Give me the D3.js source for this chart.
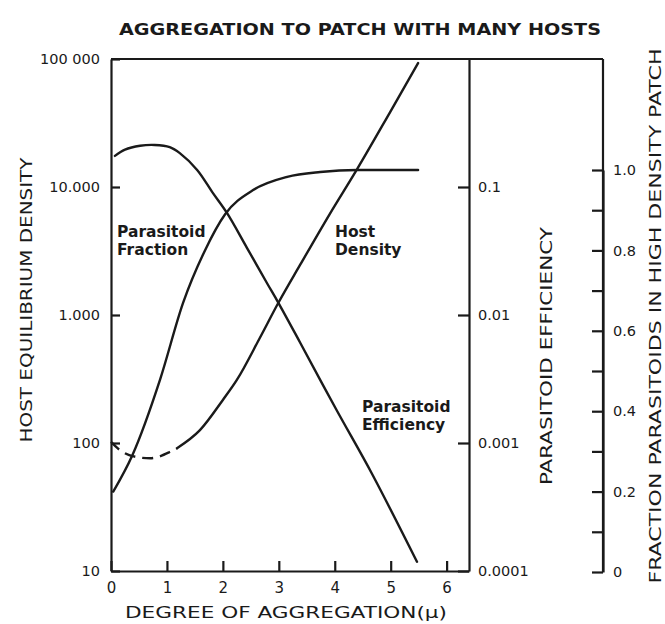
<!DOCTYPE html>
<html>
<head>
<meta charset="utf-8">
<script src="https://cdn.jsdelivr.net/npm/d3@7"></script>
<style>
  body { margin: 0; background: #fff; }
  svg { display: block; }
  text { font-family: "DejaVu Sans", sans-serif; fill: #1a1a1a; }
</style>
</head>
<body>
<svg></svg>
<script>
let width = 665, height = 624;

// x positions (degree of aggregation) and values
const xTicks = [0, 1, 2, 3, 4, 5, 6];

const hostTicks = [10, 100, 1000, 10000, 100000];
const hostLabels = ["10", "100", "1.000", "10.000", "100 000"];

const effTicks = [0.0001, 0.001, 0.01, 0.1];
const effLabels = ["0.0001", "0.001", "0.01", "0.1"];

const fracTicks = [0, 0.1, 0.2, 0.3, 0.4, 0.5, 0.6, 0.7, 0.8, 0.9, 1.0];
const fracLabels = ["0", "", "0.2", "", "0.4", "", "0.6", "", "0.8", "", "1.0"];

// parasitoid efficiency (middle log axis)
const effX = [0.07, 0.25, 0.52, 0.78, 1.05, 1.23, 1.54, 1.82, 2.07, 2.43, 2.79, 2.99, 3.38, 4.02, 4.67, 5.47];
const effY = [0.175, 0.196, 0.210, 0.213, 0.205, 0.184, 0.136, 0.090, 0.063, 0.0335, 0.0177, 0.0125, 0.0061, 0.00185, 0.00057, 0.000118];

// fraction of parasitoids in high density patch (right linear axis)
const fracX = [0.04, 0.38, 0.88, 1.29, 1.68, 2.04, 2.54, 3.15, 3.74, 4.40, 5.49];
const fracY = [0.20, 0.29, 0.48, 0.67, 0.80, 0.89, 0.95, 0.983, 0.995, 1.0, 1.0];

// host equilibrium density (left log axis); first part dashed
const hostX = [0, 0.16, 0.38, 0.70, 1.05, 1.18, 1.59, 2.00, 2.25, 2.66, 2.99, 3.38, 3.91, 4.40, 4.99, 5.49];
const hostY = [102, 88, 79, 76, 85, 91, 126, 217, 311, 661, 1240, 2460, 6150, 13800, 38500, 93000];
const hostDashEnd = 5;

let svg = d3.select("svg")
    .attr("width", width)
    .attr("height", height);

let ink = "#1a1a1a";

let x = d3.scaleLinear().domain([0, 6.4]).range([111, 469]);
let yHost = d3.scaleLog().domain([10, 100000]).range([571, 59]);
let yEff = d3.scaleLog().domain([0.0001, 1]).range([571, 59]);
let yFrac = d3.scaleLinear().domain([0, 1]).range([572, 170]);

let rightX = 603;

function styleAxis(g, size) {
  g.selectAll("path, line").attr("stroke", ink).attr("stroke-width", 2.2);
  g.selectAll("text").attr("font-size", size).attr("fill", ink)
    .attr("font-family", "DejaVu Sans, sans-serif");
}

// left axis, ticks inward
svg.append("g")
    .attr("transform", "translate(" + x(0) + ",0)")
    .call(d3.axisLeft(yHost).tickValues(hostTicks)
      .tickFormat((d, i) => hostLabels[i])
      .tickSizeInner(-9).tickSizeOuter(0).tickPadding(11))
    .call(g => styleAxis(g, 14.5));

// bottom axis
svg.append("g")
    .attr("transform", "translate(0," + yHost(10) + ")")
    .call(d3.axisBottom(x).tickValues(xTicks)
      .tickFormat(d3.format("d"))
      .tickSizeInner(-10).tickSizeOuter(0).tickPadding(11))
    .call(g => styleAxis(g, 15));

// middle axis (parasitoid efficiency)
svg.append("g")
    .attr("transform", "translate(469,0)")
    .call(d3.axisRight(yEff).tickValues(effTicks)
      .tickFormat((d, i) => effLabels[i])
      .tickSizeInner(-11).tickSizeOuter(0).tickPadding(9))
    .call(g => styleAxis(g, 14.5));

// right axis (fraction)
svg.append("g")
    .attr("transform", "translate(" + rightX + ",0)")
    .call(d3.axisRight(yFrac).tickValues(fracTicks)
      .tickFormat((d, i) => fracLabels[i])
      .tickSizeInner(-11).tickSizeOuter(0).tickPadding(10))
    .call(g => styleAxis(g, 14.5));

// frame: top line and upper part of right axis
svg.append("line")
    .attr("x1", x(0)).attr("x2", rightX)
    .attr("y1", yHost(100000)).attr("y2", yHost(100000))
    .attr("stroke", ink).attr("stroke-width", 2.2);
svg.append("line")
    .attr("x1", rightX).attr("x2", rightX)
    .attr("y1", yHost(100000)).attr("y2", yFrac(0))
    .attr("stroke", ink).attr("stroke-width", 2.2);

// curves
let curveG = svg.append("g")
    .attr("fill", "none")
    .attr("stroke", ink)
    .attr("stroke-width", 2.4)
    .attr("stroke-linecap", "round");

let effLine = d3.line().x(d => x(d[0])).y(d => yEff(d[1])).curve(d3.curveCatmullRom);
let fracLine = d3.line().x(d => x(d[0])).y(d => yFrac(d[1])).curve(d3.curveMonotoneX);
let hostLine = d3.line().x(d => x(d[0])).y(d => yHost(d[1])).curve(d3.curveMonotoneX);

curveG.append("path").attr("d", effLine(d3.zip(effX, effY)));
curveG.append("path").attr("d", fracLine(d3.zip(fracX, fracY)));

let hostPts = d3.zip(hostX, hostY);
curveG.append("path")
    .attr("d", hostLine(hostPts.slice(0, hostDashEnd + 1)))
    .attr("stroke-dasharray", "11,7")
    .attr("stroke-linecap", "butt");
curveG.append("path").attr("d", hostLine(hostPts.slice(hostDashEnd)));

// curve labels
function label(lines, lx, ly) {
  let t = svg.append("text")
      .attr("font-size", 15.5)
      .attr("font-weight", "bold");
  lines.forEach((s, i) => {
    t.append("tspan").attr("x", lx).attr("y", ly + i * 18).text(s);
  });
}
label(["Parasitoid", "Fraction"], 117, 237);
label(["Host", "Density"], 335, 237);
label(["Parasitoid", "Efficiency"], 362, 412);

// titles
svg.append("text")
    .attr("x", 360).attr("y", 35)
    .attr("text-anchor", "middle")
    .attr("font-size", 15.5).attr("font-weight", "bold")
    .attr("textLength", 482).attr("lengthAdjust", "spacingAndGlyphs")
    .text("AGGREGATION TO PATCH WITH MANY HOSTS");

svg.append("text")
    .attr("x", 286).attr("y", 618)
    .attr("text-anchor", "middle")
    .attr("font-size", 15)
    .attr("textLength", 322).attr("lengthAdjust", "spacingAndGlyphs")
    .text("DEGREE OF AGGREGATION(\u03bc)");

function vTitle(s, cx, cy, len) {
  svg.append("text")
      .attr("transform", "translate(" + cx + "," + cy + ") rotate(-90)")
      .attr("text-anchor", "middle")
      .attr("dy", "0.36em")
      .attr("font-size", 15)
      .attr("textLength", len).attr("lengthAdjust", "spacingAndGlyphs")
      .text(s);
}
vTitle("HOST EQUILIBRIUM DENSITY", 27, 300, 285);
vTitle("PARASITOID EFFICIENCY", 547, 356, 258);
vTitle("FRACTION PARASITOIDS IN HIGH DENSITY PATCH", 656, 316, 535);
</script>
</body>
</html>
